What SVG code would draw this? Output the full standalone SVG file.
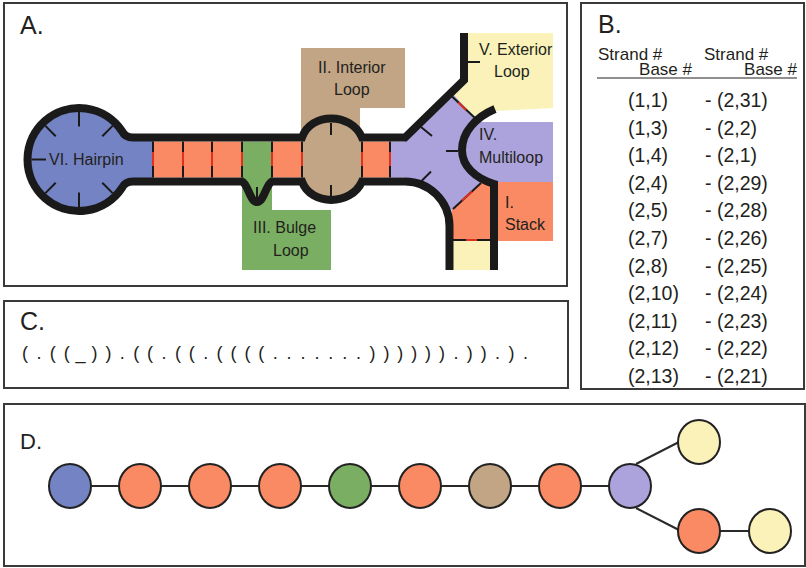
<svg xmlns="http://www.w3.org/2000/svg" width="806" height="568" viewBox="0 0 806 568">
  <style>
    .frame { fill: #ffffff; stroke: #3a3a3a; stroke-width: 2; }
    .label { font-family: "Liberation Sans", Arial, sans-serif; fill: #231f20; }
    .panel { font-size: 25px; }
    .region { font-size: 16px; }
    .hdr { font-size: 17px; }
    .pair { font-size: 19.5px; }
    .strand { fill: none; stroke: #1a1a1a; stroke-width: 8; stroke-linejoin: miter; stroke-linecap: butt; }
    .tick { stroke: #1a1a1a; stroke-width: 2; fill: none; }
    .bp { stroke: #1a1a1a; stroke-width: 2; }
    .bp-mid { stroke: #e0301e; stroke-width: 2; }
    .blue { fill: #7383c4; }
    .orange { fill: #f98a63; }
    .green { fill: #7aae62; }
    .tan { fill: #c1a585; }
    .purple { fill: #aca3dc; }
    .yellow { fill: #faf2b8; }
    .node { stroke: #222222; stroke-width: 2; }
    .edge { stroke: #2a2a2a; stroke-width: 2; fill: none; }
  </style>

  <!-- Panel frames -->
  <rect class="frame" x="4" y="3" width="563" height="283"/>
  <rect class="frame" x="581" y="3" width="223" height="386"/>
  <rect class="frame" x="4" y="301" width="564" height="87"/>
  <rect class="frame" x="4" y="404" width="801" height="162"/>

  <!-- ===== Panel A: secondary structure loops ===== -->
  <text class="label panel" x="20" y="34">A.</text>

  <g id="hairpin">
    <circle class="blue" cx="79" cy="159.5" r="51.5"/>
    <rect class="blue" x="110" y="136" width="43" height="47"/>
    <g class="tick">
      <line x1="79" y1="112" x2="79" y2="126.5"/>
      <line x1="79" y1="207" x2="79" y2="192.5"/>
      <line x1="31.5" y1="159.5" x2="46" y2="159.5"/>
      <line x1="45.4" y1="125.9" x2="55.7" y2="136.2"/>
      <line x1="112.6" y1="125.9" x2="102.3" y2="136.2"/>
      <line x1="45.4" y1="193.1" x2="55.7" y2="182.8"/>
      <line x1="112.6" y1="193.1" x2="102.3" y2="182.8"/>
    </g>
    <text class="label region" x="49" y="165">VI. Hairpin</text>
  </g>

  <g id="stacks">
    <rect class="orange" x="153" y="141.5" width="89" height="36"/>
    <rect class="orange" x="272" y="141.5" width="30" height="36"/>
    <rect class="orange" x="362" y="141.5" width="28" height="36"/>
  </g>

  <g id="bulge">
    <rect class="green" x="242" y="141.5" width="30" height="128.5"/>
    <rect class="green" x="272" y="210" width="59" height="60"/>
    <text class="label region" x="253" y="233">III. Bulge</text>
    <text class="label region" x="273" y="256">Loop</text>
  </g>

  <g id="interior">
    <rect class="tan" x="301" y="48" width="104" height="60"/>
    <rect class="tan" x="301" y="107" width="59" height="31"/>
    <path class="tan" d="M302,137.5 C311,112 351,112 362,137.5 L362,181.5 C351,206 311,206 302,181.5 Z"/>
    <text class="label region" x="318" y="73">II. Interior</text>
    <text class="label region" x="334" y="95">Loop</text>
  </g>

  <g id="exterior">
    <polygon class="yellow" points="464,33 553,33 553,108 494,111 476,119 452,94 464,82"/>
    <rect class="yellow" x="449" y="240" width="45" height="30"/>
    <text class="label region" x="479" y="55">V. Exterior</text>
    <text class="label region" x="494" y="77">Loop</text>
  </g>

  <g id="multiloop">
    <polygon class="purple" points="390,141.5 404,141.5 452,93 476,119 470,126 462,150 470,170 483,182 452,211 440,196 420,185 404,177.5 390,177.5"/>
    <rect class="purple" x="462" y="122" width="91" height="60"/>
    <text class="label region" x="479" y="140">IV.</text>
    <text class="label region" x="479" y="163">Multiloop</text>
  </g>

  <g id="stack-end">
    <polygon class="orange" points="452,210 481,182 553,182 553,241 452,241"/>
    <text class="label region" x="505" y="208">I.</text>
    <text class="label region" x="505" y="230">Stack</text>
  </g>

  <!-- base-pair rungs: black with a red centre -->
  <g id="pairs">
    <g class="bp">
      <line x1="153" y1="141.5" x2="153" y2="177.5"/>
      <line x1="183" y1="141.5" x2="183" y2="177.5"/>
      <line x1="212" y1="141.5" x2="212" y2="177.5"/>
      <line x1="242" y1="141.5" x2="242" y2="177.5"/>
      <line x1="272" y1="141.5" x2="272" y2="177.5"/>
      <line x1="302" y1="141.5" x2="302" y2="177.5"/>
      <line x1="362" y1="141.5" x2="362" y2="177.5"/>
      <line x1="390" y1="141.5" x2="390" y2="177.5"/>
      <line x1="452" y1="96.5" x2="475" y2="118"/>
      <line x1="453" y1="209" x2="481" y2="183"/>
      <line x1="453" y1="240" x2="490" y2="240"/>
    </g>
    <g class="bp-mid">
      <line x1="153" y1="152" x2="153" y2="166"/>
      <line x1="183" y1="152" x2="183" y2="166"/>
      <line x1="212" y1="152" x2="212" y2="166"/>
      <line x1="242" y1="152" x2="242" y2="166"/>
      <line x1="272" y1="152" x2="272" y2="166"/>
      <line x1="302" y1="152" x2="302" y2="166"/>
      <line x1="362" y1="152" x2="362" y2="166"/>
      <line x1="390" y1="152" x2="390" y2="166"/>
      <line x1="458.3" y1="102.5" x2="466" y2="110"/>
      <line x1="462" y1="200.5" x2="472" y2="191.5"/>
      <line x1="466" y1="240" x2="477" y2="240"/>
    </g>
  </g>

  <!-- backbone strands -->
  <g id="backbone">
    <path class="strand" d="M464,33 V80 L405,137.5 H362 C351,112 311,112 302,137.5 H133 Q125,137.5 121.9,131 A51.5,51.5 0 1 0 121.9,188 Q125,181.5 133,181.5 H242 C248,184 250,202 257,202 C264,202 266,184 272,181.5 H302 C311,206 351,206 362,181.5 H405 A44.5,44.5 0 0 1 449.5,226 V270"/>
    <path class="strand" d="M494,270 V184 C475,178 462,166 462,150 C462,132 476,117 495,109"/>
    <g class="tick">
      <line x1="331" y1="123" x2="331" y2="135"/>
      <line x1="331" y1="185" x2="331" y2="197"/>
      <line x1="257" y1="187" x2="257" y2="199"/>
      <line x1="421" y1="127" x2="432" y2="136"/>
      <line x1="420.5" y1="182" x2="431" y2="171.5"/>
      <line x1="446" y1="151" x2="458" y2="151"/>
      <line x1="468" y1="62" x2="480" y2="62"/>
    </g>
  </g>

  <!-- ===== Panel B: base-pair list ===== -->
  <g id="pair-table">
    <text class="label panel" x="598" y="33">B.</text>
    <text class="label hdr" x="598" y="60">Strand #</text>
    <text class="label hdr" x="704" y="60">Strand #</text>
    <text class="label hdr" x="692" y="75" text-anchor="end">Base #</text>
    <text class="label hdr" x="797" y="75" text-anchor="end">Base #</text>
    <line x1="597" y1="78" x2="797" y2="78" stroke="#231f20" stroke-width="1"/>
    <g class="label pair">
      <text x="628" y="107">(1,1)</text><text x="705" y="107">- (2,31)</text>
      <text x="628" y="134.6">(1,3)</text><text x="705" y="134.6">- (2,2)</text>
      <text x="628" y="162.2">(1,4)</text><text x="705" y="162.2">- (2,1)</text>
      <text x="628" y="189.8">(2,4)</text><text x="705" y="189.8">- (2,29)</text>
      <text x="628" y="217.4">(2,5)</text><text x="705" y="217.4">- (2,28)</text>
      <text x="628" y="245">(2,7)</text><text x="705" y="245">- (2,26)</text>
      <text x="628" y="272.6">(2,8)</text><text x="705" y="272.6">- (2,25)</text>
      <text x="628" y="300.2">(2,10)</text><text x="705" y="300.2">- (2,24)</text>
      <text x="628" y="327.8">(2,11)</text><text x="705" y="327.8">- (2,23)</text>
      <text x="628" y="355.4">(2,12)</text><text x="705" y="355.4">- (2,22)</text>
      <text x="628" y="383">(2,13)</text><text x="705" y="383">- (2,21)</text>
    </g>
  </g>

  <!-- ===== Panel C: dot-bracket notation ===== -->
  <g id="dot-bracket">
    <text class="label panel" x="20" y="330">C.</text>
    <text class="label" font-size="18" text-anchor="middle" y="359" x="25 38.9 52.8 66.7 80.6 94.5 108.4 122.3 136.2 150.1 164 177.9 191.8 205.7 219.6 233.5 247.4 261.3 275.2 289.1 303 316.9 330.8 344.7 358.6 372.5 386.4 400.3 414.2 428.1 442 455.9 469.8 483.7 497.6 511.5 525.4">(.((_)).((.((.((((.......)))))).)).).</text>
  </g>

  <!-- ===== Panel D: loop tree ===== -->
  <text class="label" font-size="22" x="20" y="449">D.</text>
  <g id="tree-edges">
    <line class="edge" x1="70" y1="486" x2="630" y2="486"/>
    <line class="edge" x1="636" y1="464" x2="679" y2="442"/>
    <line class="edge" x1="636" y1="508" x2="679" y2="530"/>
    <line class="edge" x1="699" y1="531" x2="770" y2="531"/>
  </g>
  <g id="n-hairpin"><ellipse class="node blue" cx="70" cy="486" rx="21" ry="22"/></g>
  <g id="n-stack1"><ellipse class="node orange" cx="140" cy="486" rx="21" ry="22"/></g>
  <g id="n-stack2"><ellipse class="node orange" cx="210" cy="486" rx="21" ry="22"/></g>
  <g id="n-stack3"><ellipse class="node orange" cx="280" cy="486" rx="21" ry="22"/></g>
  <g id="n-bulge"><ellipse class="node green" cx="350" cy="486" rx="21" ry="22"/></g>
  <g id="n-stack4"><ellipse class="node orange" cx="420" cy="486" rx="21" ry="22"/></g>
  <g id="n-interior"><ellipse class="node tan" cx="490" cy="486" rx="21" ry="22"/></g>
  <g id="n-stack5"><ellipse class="node orange" cx="560" cy="486" rx="21" ry="22"/></g>
  <g id="n-multiloop"><ellipse class="node purple" cx="630" cy="486" rx="21" ry="22"/></g>
  <g id="n-exterior1"><ellipse class="node yellow" cx="699" cy="442" rx="21" ry="22"/></g>
  <g id="n-stack6"><ellipse class="node orange" cx="699" cy="531" rx="21" ry="22"/></g>
  <g id="n-exterior2"><ellipse class="node yellow" cx="770" cy="531" rx="21" ry="22"/></g>
</svg>
